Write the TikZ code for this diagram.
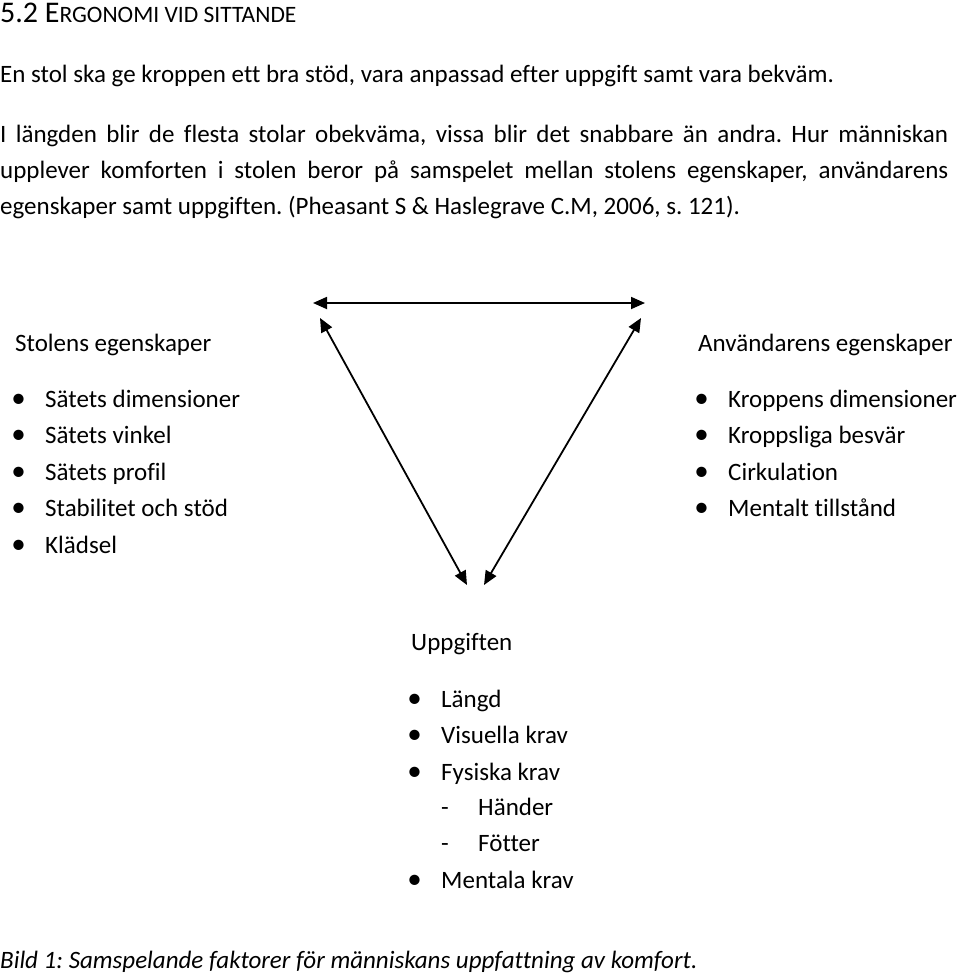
\documentclass[tikz,border=0pt]{standalone}
\usepackage{fontspec}
\setmainfont{Carlito}[Ligatures=NoCommon]
\usetikzlibrary{arrows.meta}
\frenchspacing

\tikzset{
  txt/.style={anchor=base west, inner sep=0pt, font=\fontsize{25}{30}\selectfont},
  item/.style={txt, label={[txt, anchor=base east, xshift=-19pt]base west:{\fontsize{29}{30}\selectfont\textbullet}}},
  subitem/.style={txt, label={[txt, anchor=base west, xshift=-37pt]base west:-}},
  link/.style={line width=1.8pt, {Triangle[length=14pt,width=12pt]}-{Triangle[length=14pt,width=12pt]}}
}

\begin{document}
\begin{tikzpicture}[x=1pt, y=-1pt]
  \useasboundingbox (0,0) rectangle (960,980);

  % heading and text
  \node[txt] (head) at (0,22) {\fontsize{30}{36}\selectfont 5.2 E\fontsize{23.5}{28}\selectfont RGONOMI VID SITTANDE};
  \node[txt] (intro) at (0,82) {En stol ska ge kroppen ett bra stöd, vara anpassad efter uppgift samt vara bekväm.};
  \node[txt] (para1) at (0,142) {\makebox[948pt][s]{I längden blir de flesta stolar obekväma, vissa blir det snabbare än andra. Hur människan}};
  \node[txt] (para2) at (0,178) {\makebox[948pt][s]{upplever komforten i stolen beror på samspelet mellan stolens egenskaper, användarens}};
  \node[txt] (para3) at (0,214) {egenskaper samt uppgiften. (Pheasant S \& Haslegrave C.M, 2006, s. 121).};

  % triangle
  \coordinate (topL) at (313,303);
  \coordinate (topR) at (645,303);
  \coordinate (sideL) at (320,318);
  \coordinate (sideR) at (641,318);
  \coordinate (botL) at (467,585);
  \coordinate (botR) at (484,585);
  \draw[link] (topL) -- (topR);
  \draw[link] (sideL) -- (botL);
  \draw[link] (sideR) -- (botR);

  % stolen
  \node[txt] (stol) at (15,351) {Stolens egenskaper};
  \node[item] (s1) at (45,407) {Sätets dimensioner};
  \node[item] (s2) at (45,443) {Sätets vinkel};
  \node[item] (s3) at (45,480) {Sätets profil};
  \node[item] (s4) at (45,516) {Stabilitet och stöd};
  \node[item] (s5) at (45,553) {Klädsel};

  % användaren
  \node[txt] (anv) at (698,351) {Användarens egenskaper};
  \node[item] (a1) at (728,407) {Kroppens dimensioner};
  \node[item] (a2) at (728,443) {Kroppsliga besvär};
  \node[item] (a3) at (728,480) {Cirkulation};
  \node[item] (a4) at (728,516) {Mentalt tillstånd};

  % uppgiften
  \node[txt] (upp) at (411,650) {Uppgiften};
  \node[item] (u1) at (441,707) {Längd};
  \node[item] (u2) at (441,743) {Visuella krav};
  \node[item] (u3) at (441,780) {Fysiska krav};
  \node[subitem] (u4) at (478,815) {Händer};
  \node[subitem] (u5) at (478,851) {Fötter};
  \node[item] (u6) at (441,888) {Mentala krav};

  \node[txt] (bild) at (0,968) {\itshape Bild 1: Samspelande faktorer för människans uppfattning av komfort.};
\end{tikzpicture}
\end{document}
